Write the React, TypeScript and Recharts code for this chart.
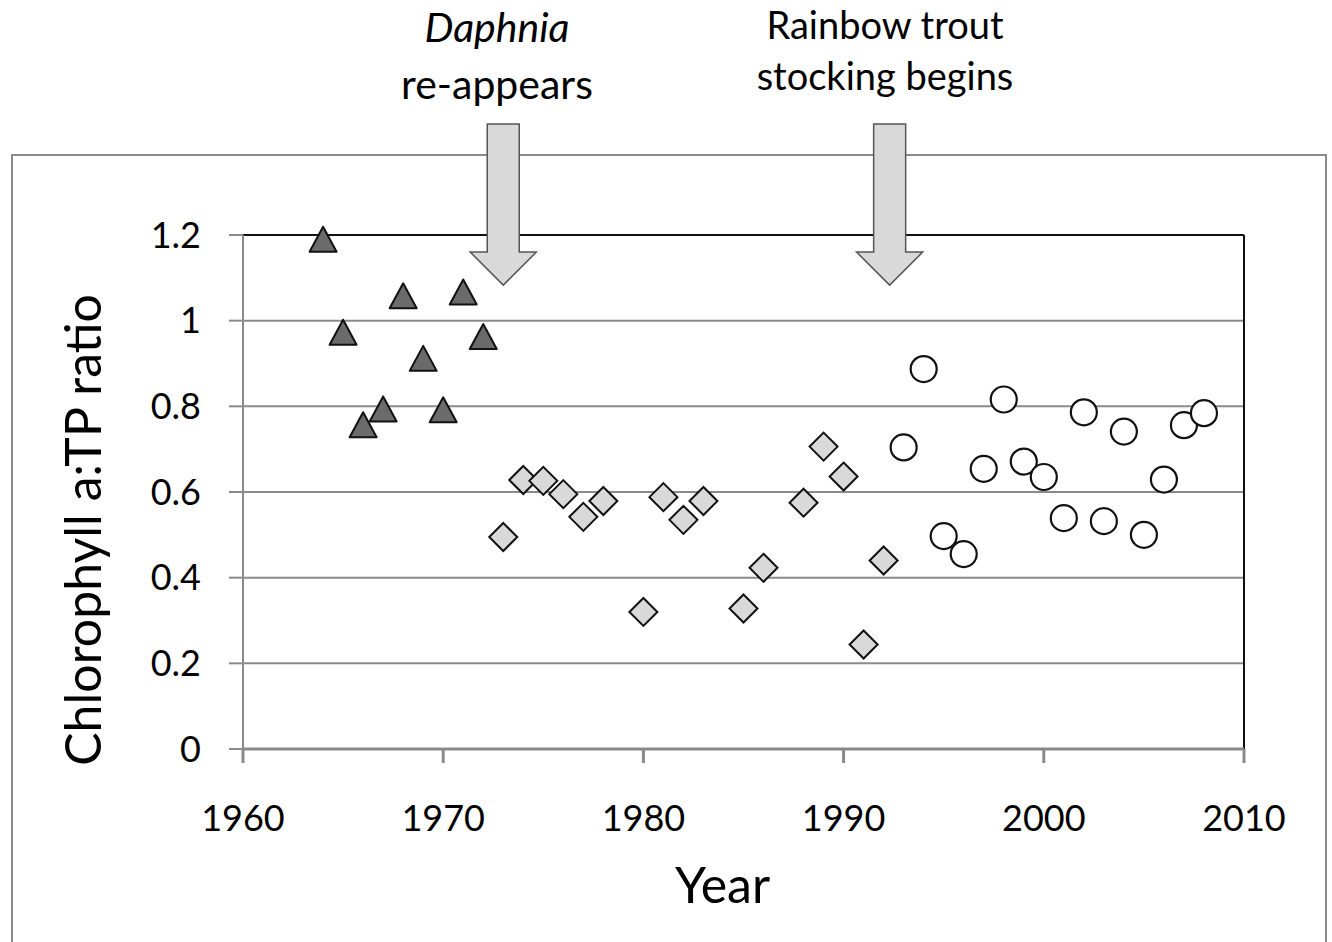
import {
  ScatterChart,
  Scatter,
  XAxis,
  YAxis,
  CartesianGrid,
  ReferenceLine,
  ReferenceDot,
} from "recharts";

const FONT = "Lato, 'Open Sans', sans-serif";

// pre-Daphnia years (triangles)
const triYears = [1964, 1965, 1966, 1967, 1968, 1969, 1970, 1971, 1972];
const triVals = [1.19, 0.973, 0.757, 0.794, 1.058, 0.912, 0.792, 1.067, 0.963];

// Daphnia present, before trout (diamonds)
const diaYears = [1973, 1974, 1975, 1976, 1977, 1978, 1980, 1981, 1982, 1983, 1985, 1986, 1988, 1989, 1990, 1991, 1992];
const diaVals = [0.495, 0.628, 0.626, 0.595, 0.542, 0.579, 0.32, 0.588, 0.535, 0.579, 0.328, 0.423, 0.575, 0.706, 0.636, 0.244, 0.44];

// trout stocking (circles)
const circYears = [1993, 1994, 1995, 1996, 1997, 1998, 1999, 2000, 2001, 2002, 2003, 2004, 2005, 2006, 2007, 2008];
const circVals = [0.704, 0.887, 0.497, 0.455, 0.654, 0.816, 0.671, 0.635, 0.539, 0.786, 0.532, 0.741, 0.5, 0.629, 0.756, 0.784];

const xTicks = [1960, 1970, 1980, 1990, 2000, 2010];
const yTicks = [0, 0.2, 0.4, 0.6, 0.8, 1, 1.2];

// annotation arrows: year where each tip points
const arrowYears = [1973, 1992.3];
const arrowTip = 1.083;

const toRows = (xs: number[], ys: number[]) => xs.map((x, i) => ({ year: x, ratio: ys[i] }));

const triData = toRows(triYears, triVals);
const diaData = toRows(diaYears, diaVals);
const circData = toRows(circYears, circVals);

const GRID = "#8a8a8a";

function Triangle(props: any) {
  const { cx, cy } = props;
  const h = 25;
  const w = 27;
  return (
    <path
      d={`M${cx},${cy - h / 2} L${cx + w / 2},${cy + h / 2} L${cx - w / 2},${cy + h / 2} Z`}
      fill="#6b6b6b"
      stroke="#111"
      strokeWidth={2}
      strokeLinejoin="round"
    />
  );
}

function Diamond(props: any) {
  const { cx, cy } = props;
  const r = 14;
  return (
    <path
      d={`M${cx},${cy - r} L${cx + r},${cy} L${cx},${cy + r} L${cx - r},${cy} Z`}
      fill="#d9d9d9"
      stroke="#111"
      strokeWidth={2}
    />
  );
}

function Circle(props: any) {
  const { cx, cy } = props;
  return <circle cx={cx} cy={cy} r={13} fill="#fff" stroke="#111" strokeWidth={2.2} />;
}

function Arrow(props: any) {
  const { cx, cy } = props;
  const shaftW = 16;
  const headW = 33;
  const headH = 33;
  const top = cy - 161;
  const d = `M${cx - shaftW},${top} L${cx + shaftW},${top} L${cx + shaftW},${cy - headH} L${cx + headW},${cy - headH} L${cx},${cy} L${cx - headW},${cy - headH} L${cx - shaftW},${cy - headH} Z`;
  return <path d={d} fill="#d9d9d9" stroke="#555" strokeWidth={1.5} />;
}

export default function App() {
  return (
    <div style={{ position: "absolute", left: 0, top: 0, width: 1332, height: 942, background: "#fff" }}>
      <div
        style={{
          position: "absolute",
          left: 11,
          top: 154,
          width: 1316,
          height: 800,
          border: `2px solid ${GRID}`,
          boxSizing: "border-box",
        }}
      />
      <svg width={1332} height={150} style={{ position: "absolute", left: 0, top: 0, fontFamily: FONT }}>
        <text x={497} y={42} textAnchor="middle" fontSize={41} fontStyle="italic" fill="#000">
          Daphnia
        </text>
        <text x={497} y={99} textAnchor="middle" fontSize={41} fill="#000">
          re-appears
        </text>
        <text x={885} y={39} textAnchor="middle" fontSize={38} fill="#000">
          Rainbow trout
        </text>
        <text x={885} y={90} textAnchor="middle" fontSize={38} fill="#000">
          stocking begins
        </text>
      </svg>
      <div style={{ position: "absolute", left: 0, top: 0 }}>
        <ScatterChart
          width={1332}
          height={942}
          margin={{ top: 235, right: 88, bottom: 93, left: 163 }}
          style={{ fontFamily: FONT }}
        >
          <CartesianGrid horizontal vertical={false} stroke={GRID} strokeWidth={2} />
          <XAxis
            type="number"
            dataKey="year"
            domain={[1960, 2010]}
            ticks={xTicks}
            height={100}
            stroke={GRID}
            strokeWidth={3}
            tickSize={14}
            tickMargin={42}
            tick={{ fill: "#000", fontSize: 36 }}
            label={({ viewBox }: any) => (
              <text x={viewBox.x + viewBox.width / 2 - 21} y={903} textAnchor="middle" fontSize={50} fill="#000">
                Year
              </text>
            )}
          />
          <YAxis
            type="number"
            dataKey="ratio"
            domain={[0, 1.2]}
            ticks={yTicks}
            width={80}
            stroke={GRID}
            strokeWidth={2}
            tickSize={14}
            tickMargin={28}
            tick={{ fill: "#000", fontSize: 36 }}
            label={({ viewBox }: any) => (
              <text
                x={82}
                y={viewBox.y + viewBox.height / 2 + 38}
                transform={`rotate(-90, 82, ${viewBox.y + viewBox.height / 2 + 38})`}
                textAnchor="middle"
                dominantBaseline="central"
                fontSize={50}
                fill="#000"
              >
                Chlorophyll a:TP ratio
              </text>
            )}
          />
          <ReferenceLine y={1.2} stroke="#111" strokeWidth={2} />
          <ReferenceLine x={2010} stroke="#111" strokeWidth={2} />
          <Scatter data={triData} shape={Triangle} isAnimationActive={false} />
          <Scatter data={diaData} shape={Diamond} isAnimationActive={false} />
          <Scatter data={circData} shape={Circle} isAnimationActive={false} />
          {arrowYears.map((yr) => (
            <ReferenceDot key={yr} x={yr} y={arrowTip} ifOverflow="visible" shape={Arrow} />
          ))}
        </ScatterChart>
      </div>
    </div>
  );
}
